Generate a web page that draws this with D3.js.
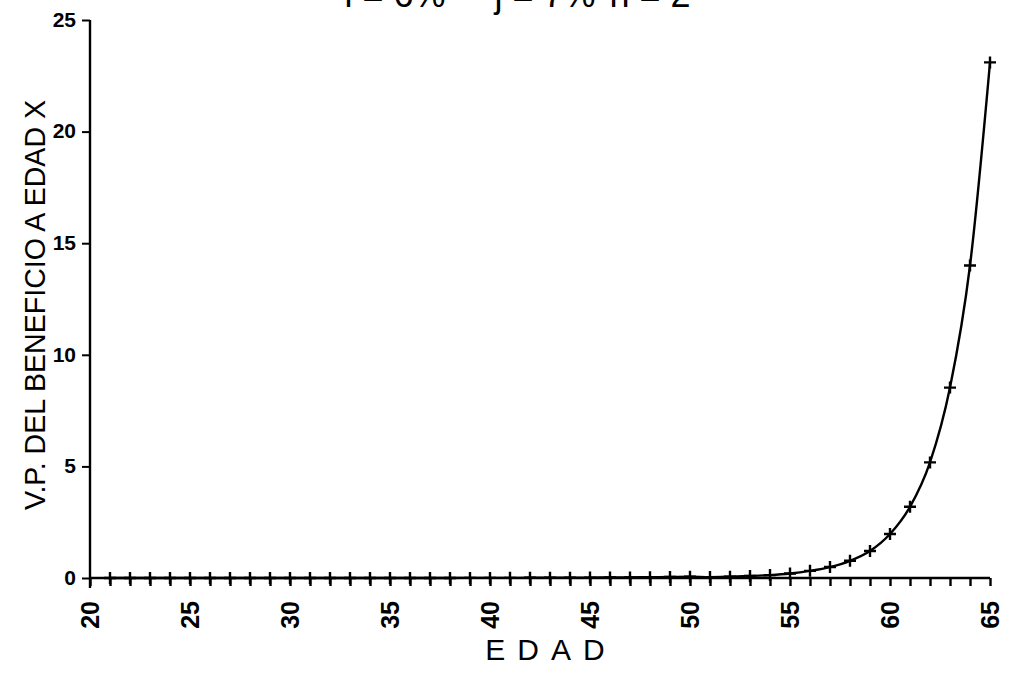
<!DOCTYPE html>
<html>
<head>
<meta charset="utf-8">
<script src="https://cdn.jsdelivr.net/npm/d3@7"></script>
<style>
  html, body { margin: 0; padding: 0; background: #fff; }
  svg { display: block; }
  text { fill: #000; }
</style>
</head>
<body>
<svg id="chart" width="1011" height="674"></svg>
<script>
// Edad (años) y valor presente del beneficio a esa edad
const ages = [21,22,23,24,25,26,27,28,29,30,31,32,33,34,35,36,37,38,39,40,41,42,43,
              44,45,46,47,48,49,50,51,52,53,54,55,56,57,58,59,60,61,62,63,64,65];
const values = [0.000,0.000,0.000,0.000,0.000,0.000,0.000,0.000,0.000,0.000,0.000,0.001,0.001,0.001,0.001,
                0.002,0.002,0.003,0.004,0.005,0.006,0.008,0.010,0.013,0.017,0.022,0.028,0.036,0.046,
                0.058,0.040,0.060,0.090,0.13,0.20,0.32,0.49,0.77,1.21,1.97,3.19,5.18,8.53,14.0,23.1];
const xTicks = [20,25,30,35,40,45,50,55,60,65];
const yTicks = [0,5,10,15,20,25];
const titleParts = ["i = 6%", "j = 7%", "n = 2"];

const svg = d3.select("#chart");
const x = d3.scaleLinear().domain([20, 65]).range([90, 990]);
const y = d3.scaleLinear().domain([0, 25]).range([578, 20]);

const font = "'Liberation Sans', Arial, sans-serif";
const narrow = "'Liberation Sans Narrow', 'Liberation Sans', sans-serif";

// Título (cortado por el borde superior)
svg.append("g").selectAll("text").data(titleParts).join("text")
  .attr("x", (d, i) => [395, 545, 650][i])
  .attr("y", 7)
  .attr("text-anchor", "middle")
  .attr("font-family", font)
  .attr("font-size", 36)
  .text(d => d);

// Eje Y
const yAxis = svg.append("g")
  .attr("transform", "translate(90,0)")
  .call(d3.axisLeft(y).tickValues(yTicks).tickSize(8).tickPadding(6));
yAxis.select(".domain").attr("stroke", "#000").attr("stroke-width", 2.4).attr("d", `M0,${y(0) + 10}V${y(25)}`);
yAxis.selectAll(".tick line").attr("stroke", "#000").attr("stroke-width", 2);
yAxis.selectAll(".tick text")
  .attr("font-family", font).attr("font-size", 21).attr("font-weight", "bold")
  .attr("dy", "0.3em");

// Eje X
const xAxis = svg.append("g")
  .attr("transform", `translate(0,${y(0)})`)
  .call(d3.axisBottom(x).tickValues(d3.range(20, 66)).tickSize(8).tickFormat(""));
xAxis.select(".domain").attr("stroke", "#000").attr("stroke-width", 2.4).attr("d", `M${x(20)},0H${x(65)}`);
xAxis.selectAll(".tick line").attr("stroke", "#000").attr("stroke-width", 2.4);

// Etiquetas de edad, giradas
svg.append("g").selectAll("text").data(xTicks).join("text")
  .attr("transform", d => `translate(${x(d) + 9},601) rotate(-90)`)
  .attr("text-anchor", "end")
  .attr("font-family", narrow)
  .attr("font-size", 25)
  .attr("font-weight", "bold")
  .text(d => d);

// Títulos de los ejes
svg.append("text")
  .attr("transform", "translate(45,305) rotate(-90)")
  .attr("text-anchor", "middle")
  .attr("font-family", narrow)
  .attr("font-size", 30)
  .attr("textLength", 410)
  .attr("lengthAdjust", "spacingAndGlyphs")
  .text("V.P. DEL BENEFICIO A EDAD X");

svg.append("text")
  .attr("x", 551).attr("y", 660)
  .attr("text-anchor", "middle")
  .attr("font-family", font)
  .attr("font-size", 30)
  .attr("letter-spacing", 12)
  .text("EDAD");

// Curva
const data = ages.map((a, i) => ({ age: a, v: values[i] }));
svg.append("path")
  .datum(data)
  .attr("fill", "none")
  .attr("stroke", "#000")
  .attr("stroke-width", 2.4)
  .attr("d", d3.line().x(d => x(d.age)).y(d => y(d.v)).curve(d3.curveMonotoneX));

// Marcadores "+"
const m = 6;
svg.append("g").selectAll("path").data(data).join("path")
  .attr("fill", "none")
  .attr("stroke", "#000")
  .attr("stroke-width", 2.4)
  .attr("d", d => {
    const cx = x(d.age), cy = y(d.v);
    return `M${cx - m},${cy}H${cx + m}M${cx},${cy - m}V${cy + m}`;
  });
</script>
</body>
</html>
